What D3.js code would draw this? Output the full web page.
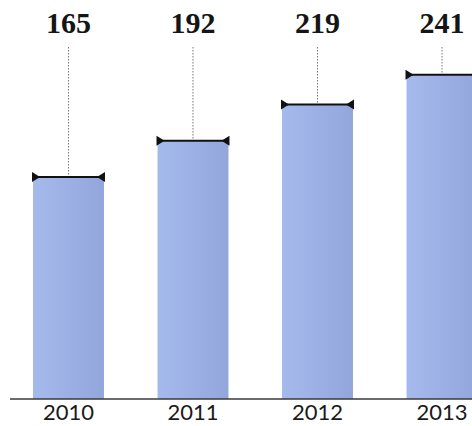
<!DOCTYPE html>
<html lang="en">
<head>
    <meta charset="UTF-8">
    <title>Yearly totals</title>
    <style>
        body { margin: 0; background: #fff; }
        svg { display: block; }
        .value { font-family: "Liberation Serif", "DejaVu Serif", serif; font-weight: bold; font-size: 30px; fill: #151515; text-anchor: middle; }
        .year { font-family: Lato, "Open Sans", sans-serif; font-size: 22px; fill: #1a1a1a; text-anchor: middle; }
        .guide { stroke: #777; stroke-width: 1; stroke-dasharray: 1.5, 1.5; }
        .cap { stroke: #111; stroke-width: 2; }
        .axis-line { stroke: #3a3a3a; stroke-width: 1.5; }
    </style>
</head>
<body>
    <svg width="472" height="426"></svg>
    <script src="https://d3js.org/d3.v7.min.js"></script>
    <script>
        const years = ["2010", "2011", "2012", "2013"];
        const values = [165, 192, 219, 241];

        const svg = d3.select("svg");
        const baseY = 399;

        const x = d3.scaleBand()
            .domain(years)
            .range([6, 504.5])
            .paddingInner(0.43)
            .paddingOuter(0.217);
        const y = d3.scaleLinear().domain([0, 300]).range([baseY, -4.5]);

        // bar fill, slightly lighter on the left like the scanned original
        const grad = svg.append("defs").append("linearGradient")
            .attr("id", "barFill").attr("x1", 0).attr("x2", 1).attr("y1", 0).attr("y2", 0);
        grad.append("stop").attr("offset", "0%").attr("stop-color", "#a5baec");
        grad.append("stop").attr("offset", "45%").attr("stop-color", "#9db1e6");
        grad.append("stop").attr("offset", "100%").attr("stop-color", "#93a6dc");

        const data = years.map((yr, i) => ({ year: yr, value: values[i] }));

        svg.append("g").selectAll("rect")
            .data(data)
            .enter().append("rect")
            .attr("x", d => x(d.year))
            .attr("y", d => y(d.value))
            .attr("width", x.bandwidth())
            .attr("height", d => baseY - y(d.value))
            .attr("fill", "url(#barFill)");

        // dotted guide from label down to bar top
        svg.append("g").selectAll("line")
            .data(data)
            .enter().append("line")
            .attr("class", "guide")
            .attr("x1", d => x(d.year) + x.bandwidth() / 2)
            .attr("x2", d => x(d.year) + x.bandwidth() / 2)
            .attr("y1", 47)
            .attr("y2", d => y(d.value));

        // black cap line with inward triangles
        const caps = svg.append("g").selectAll("g")
            .data(data)
            .enter().append("g");
        caps.append("line")
            .attr("class", "cap")
            .attr("x1", d => x(d.year))
            .attr("x2", d => x(d.year) + x.bandwidth())
            .attr("y1", d => y(d.value))
            .attr("y2", d => y(d.value));
        caps.append("path")
            .attr("fill", "#111")
            .attr("d", d => {
                const l = x(d.year), r = l + x.bandwidth(), t = y(d.value);
                return `M${l - 1},${t - 5}L${l + 7},${t}L${l - 1},${t + 5}Z` +
                       `M${r + 1},${t - 5}L${r - 7},${t}L${r + 1},${t + 5}Z`;
            });

        svg.append("g").selectAll("text")
            .data(data)
            .enter().append("text")
            .attr("class", "value")
            .attr("x", d => x(d.year) + x.bandwidth() / 2)
            .attr("y", 33)
            .text(d => d.value);

        svg.append("line")
            .attr("class", "axis-line")
            .attr("x1", 10).attr("x2", 472)
            .attr("y1", baseY).attr("y2", baseY);

        svg.append("g").selectAll("text")
            .data(data)
            .enter().append("text")
            .attr("class", "year")
            .attr("x", d => x(d.year) + x.bandwidth() / 2)
            .attr("y", 420)
            .text(d => d.year);
    </script>
</body>
</html>
